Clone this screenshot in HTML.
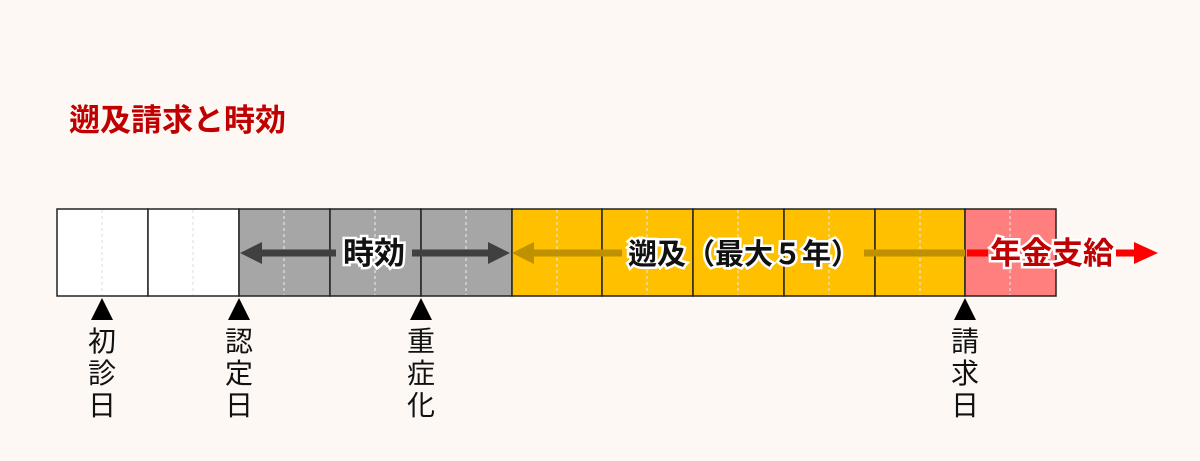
<!DOCTYPE html>
<html><head><meta charset="utf-8"><style>
body{margin:0;background:#fdf8f4;}
svg{display:block}
text{font-family:"Liberation Sans","Noto Sans CJK JP",sans-serif;}
</style></head><body>
<svg width="1200" height="461" xmlns="http://www.w3.org/2000/svg">
<rect width="1200" height="461" fill="#fdf8f4"/>
<text x="69" y="131" font-size="31" font-weight="bold" fill="#c00000">遡及請求と時効</text>
<g stroke="#222" stroke-width="1.5">
<rect x="57" y="209" width="91" height="87" fill="#fff"/>
<rect x="148" y="209" width="91" height="87" fill="#fff"/>
<rect x="239" y="209" width="91" height="87" fill="#a6a6a6"/>
<rect x="330" y="209" width="91" height="87" fill="#a6a6a6"/>
<rect x="421" y="209" width="91" height="87" fill="#a6a6a6"/>
<rect x="512" y="209" width="90" height="87" fill="#ffc000"/>
<rect x="602" y="209" width="91" height="87" fill="#ffc000"/>
<rect x="693" y="209" width="91" height="87" fill="#ffc000"/>
<rect x="784" y="209" width="91" height="87" fill="#ffc000"/>
<rect x="875" y="209" width="90" height="87" fill="#ffc000"/>
<rect x="965" y="209" width="91" height="87" fill="#ff7f7f"/>
</g>
<g stroke="#eee" stroke-width="1" stroke-dasharray="3,3">
<line x1="102" y1="210" x2="102" y2="295" stroke="#ddd"/><line x1="193" y1="210" x2="193" y2="295" stroke="#ddd"/>
<line x1="284" y1="210" x2="284" y2="295"/><line x1="375" y1="210" x2="375" y2="295"/><line x1="466" y1="210" x2="466" y2="295"/>
<line x1="557" y1="210" x2="557" y2="295"/><line x1="647" y1="210" x2="647" y2="295"/><line x1="738" y1="210" x2="738" y2="295"/>
<line x1="829" y1="210" x2="829" y2="295"/><line x1="920" y1="210" x2="920" y2="295"/><line x1="1010" y1="210" x2="1010" y2="295"/>
</g>
<g stroke-width="7">
<line x1="255" y1="253" x2="336" y2="253" stroke="#404040"/>
<line x1="412" y1="253" x2="495" y2="253" stroke="#404040"/>
<line x1="525" y1="253" x2="622" y2="253" stroke="#bf9000"/>
<line x1="864" y1="253" x2="965" y2="253" stroke="#bf9000"/>
<line x1="967" y1="253" x2="988" y2="253" stroke="#ff0000"/>
<line x1="1116" y1="253" x2="1135" y2="253" stroke="#ff0000"/>
</g>
<polygon points="240,253 262,242 262,264" fill="#404040"/>
<polygon points="510,253 488,242 488,264" fill="#404040"/>
<polygon points="512,253 534,242 534,264" fill="#bf9000"/>
<polygon points="1158,253 1134,242 1134,264" fill="#ff0000"/>
<g font-weight="bold" text-anchor="middle" stroke="#fff" stroke-width="5" paint-order="stroke">
<text x="374" y="264" font-size="31" fill="#111">時効</text>
<text x="744" y="264" font-size="29" fill="#111">遡及（最大５年）</text>
<text x="1052" y="264" font-size="31" fill="#c00000">年金支給</text>
</g>
<g fill="#000">
<polygon points="102,298 91,320 113,320"/>
<polygon points="239,298 228,320 250,320"/>
<polygon points="421,298 410,320 432,320"/>
<polygon points="965,298 954,320 976,320"/>
</g>
<g font-size="28" fill="#111" text-anchor="middle">
<text x="102" y="351">初</text><text x="102" y="383">診</text><text x="102" y="415">日</text>
<text x="239" y="351">認</text><text x="239" y="383">定</text><text x="239" y="415">日</text>
<text x="421" y="351">重</text><text x="421" y="383">症</text><text x="421" y="415">化</text>
<text x="965" y="351">請</text><text x="965" y="383">求</text><text x="965" y="415">日</text>
</g>
</svg>
</body></html>
